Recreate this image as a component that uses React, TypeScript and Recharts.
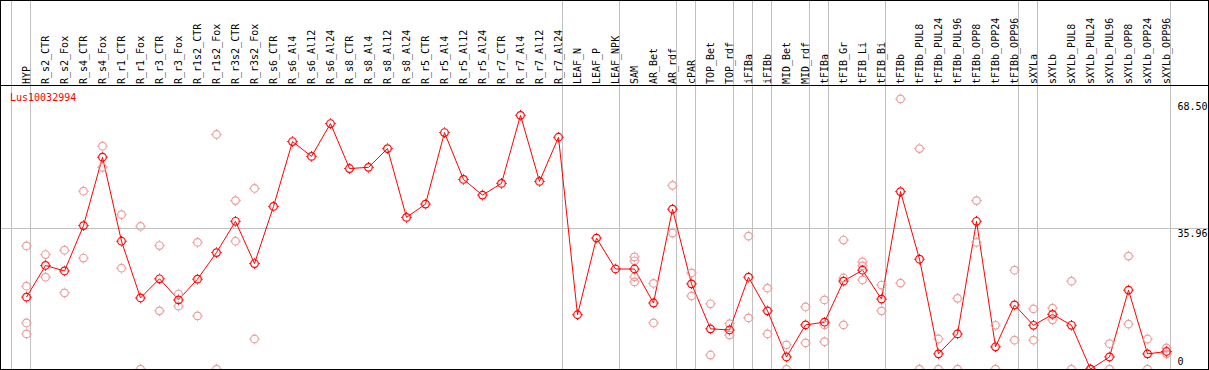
import { ComposedChart, Line, Scatter, XAxis, YAxis, ReferenceLine } from 'recharts'

const _ = null

const CATEGORIES = [
    'HYP', 'R_s2_CTR', 'R_s2_Fox', 'R_s4_CTR', 'R_s4_Fox', 'R_r1_CTR', 'R_r1_Fox', 'R_r3_CTR', 'R_r3_Fox', 'R_r1s2_CTR',
    'R_r1s2_Fox', 'R_r3s2_CTR', 'R_r3s2_Fox', 'R_s6_CTR', 'R_s6_Al4', 'R_s6_Al12', 'R_s6_Al24', 'R_s8_CTR', 'R_s8_Al4', 'R_s8_Al12',
    'R_s8_Al24', 'R_r5_CTR', 'R_r5_Al4', 'R_r5_Al12', 'R_r5_Al24', 'R_r7_CTR', 'R_r7_Al4', 'R_r7_Al12', 'R_r7_Al24', 'LEAF_N',
    'LEAF_P', 'LEAF_NPK', 'SAM', 'AR_Bet', 'AR_rdf', 'cPAR', 'TOP_Bet', 'TOP_rdf', 'iFIBa', 'iFIBb',
    'MID_Bet', 'MID_rdf', 'tFIBa', 'tFIB_Gr', 'tFIB_Li', 'tFIB_Bi', 'tFIBb', 'tFIBb_PUL8', 'tFIBb_PUL24', 'tFIBb_PUL96',
    'tFIBb_OPP8', 'tFIBb_OPP24', 'tFIBb_OPP96', 'sXYLa', 'sXYLb', 'sXYLb_PUL8', 'sXYLb_PUL24', 'sXYLb_PUL96', 'sXYLb_OPP8', 'sXYLb_OPP24',
    'sXYLb_OPP96',
]

// mean expression per sample (the red line)
const MEANS = [
    18.4, 26.5, 25.1, 36.7, 54.2, 32.7, 18.2, 23.1, 17.7, 23.0,
    29.8, 37.8, 27.0, 41.6, 58.2, 54.4, 62.8, 51.3, 51.6, 56.4,
    38.8, 42.2, 60.5, 48.5, 44.5, 47.5, 64.9, 48.0, 59.3, 13.9,
    33.5, 25.6, 25.6, 16.9, 40.9, 21.8, 10.3, 10.0, 23.5, 14.9,
    3.1, 11.3, 12.0, 22.5, 25.3, 17.9, 45.4, 28.1, 3.9, 9.0,
    37.8, 5.7, 16.4, 11.2, 14.0, 11.2, 0, 3.1, 20.2, 3.9,
    4.5,
]

// biological replicates (pink rings)
const REP_1 = [
    31.5, 29.3, 30.4, 45.5, 57.0, 39.5, 36.5, 31.6, 19.2, 32.4,
    60.0, 43.1, 46.2, _, _, _, _, _, _, _,
    _, _, _, _, _, _, _, _, _, _,
    _, _, 28.7, 21.9, 47.0, 24.6, 16.7, 11.6, 34.0, 20.7,
    6.2, 15.9, 17.7, 33.0, 27.4, 21.5, 69.1, 56.4, 7.7, 18.1,
    43.1, 11.2, 25.3, 15.4, 15.6, 22.5, 0, 6.5, 28.9, 7.7,
    5.4,
]
const REP_2 = [
    21.2, 23.5, 19.5, 28.4, 51.6, 25.8, 0, 14.9, 16.1, 13.6,
    0, 32.7, 7.7, _, _, _, _, _, _, _,
    _, _, _, _, _, _, _, _, _, _,
    _, _, 27.7, 11.8, 34.8, 18.7, 3.6, 8.7, 13.1, 9.0,
    0, 6.7, 11.3, 23.3, 26.4, 14.9, 22.0, 0, 0, 0,
    32.4, 0, 7.4, 7.4, 12.6, 0, 0, 0, 11.5, 0,
    3.9,
]
const REP_3 = [
    11.8, _, _, _, _, _, _, _, _, _,
    _, _, _, _, _, _, _, _, _, _,
    _, _, _, _, _, _, _, _, _, _,
    _, _, 23.6, _, _, _, _, _, _, _,
    _, _, 7.0, 11.3, 22.8, _, _, _, _, _,
    _, _, _, _, _, _, _, _, _, _,
    _,
]
const REP_4 = [
    9.0, _, _, _, _, _, _, _, _, _,
    _, _, _, _, _, _, _, _, _, _,
    _, _, _, _, _, _, _, _, _, _,
    _, _, 22.3, _, _, _, _, _, _, _,
    _, _, _, _, _, _, _, _, _, _,
    _, _, _, _, _, _, _, _, _, _,
    _,
]

// first column index of each sample group (gray separators)
const GROUP_STARTS = [0, 1, 29, 32, 35, 36, 38, 39, 40, 42, 43, 46, 53, 54, 61]
const Y_TICKS = [0, 35.96, 68.5]
const TITLE = 'Lus10032994'

const W = 1209
const H = 370
const COL = 19          // px per sample column
const FIRST_X = 26.5    // px of first sample point
const ZERO_Y = 369.1    // px of value 0
const PX_PER_UNIT = 3.91
const HEADER_Y = 85.5

const RED = '#ff0000'
const PINK = '#eb9c9c'
const GRID = '#c0c0c0'
const FONT = '"DejaVu Sans Mono", monospace'

const rows = CATEGORIES.map((name, i) => ({ idx: i, name, mean: MEANS[i] }))
const reps = [REP_1, REP_2, REP_3, REP_4].flatMap((arr) =>
    arr.map((v, i) => ({ idx: i, val: v })).filter((p) => p.val !== null)
)

const xDomain = [-FIRST_X / COL, (W - FIRST_X) / COL]
const yDomain = [-(H - ZERO_Y) / PX_PER_UNIT, ZERO_Y / PX_PER_UNIT]
const colOffset = (FIRST_X - 11.5) / COL

function Ring({ cx, cy, color }: { cx?: number; cy?: number; color: string }) {
    if (cx == null || cy == null || isNaN(cx) || isNaN(cy)) return <g />
    return (
        <g stroke={color} fill="none">
            <circle cx={cx} cy={cy} r={3.8} strokeWidth={1.2} />
            <path
                d={`M${cx},${cy - 5.3}v1M${cx},${cy + 4.3}v1M${cx - 5.3},${cy}h1M${cx + 4.3},${cy}h1`}
                strokeWidth={1}
            />
        </g>
    )
}

function CategoryTick(props: any) {
    const { x, payload } = props
    const bx = x + 3.5
    return (
        <text
            x={bx}
            y={84}
            transform={`rotate(-90, ${bx}, 84)`}
            fontFamily={FONT}
            fontSize={10}
            fill="#000"
            textAnchor="start"
        >
            {CATEGORIES[payload.value]}
        </text>
    )
}

function ValueTick(props: any) {
    const { y, payload } = props
    const v = payload.value
    return (
        <text x={W - 31.5} y={v === 0 ? y - 4 : y + 9} fontFamily={FONT} fontSize={10} fill="#000">
            {v === 0 ? '0' : v.toFixed(2)}
        </text>
    )
}

export default function App() {
    return (
        <div style={{ position: 'absolute', left: 0, top: 0, width: W, height: H, background: '#fff' }}>
            {/* axes get 1px each; negative margins keep the plot at the full 1209x370 */}
            <ComposedChart width={W} height={H} data={rows} margin={{ top: -1, right: -1, bottom: 0, left: 0 }}>
                <XAxis
                    dataKey="idx"
                    type="number"
                    orientation="top"
                    height={1}
                    domain={xDomain}
                    allowDataOverflow
                    ticks={rows.map((r) => r.idx)}
                    interval={0}
                    tick={CategoryTick}
                    tickLine={false}
                    axisLine={false}
                />
                <YAxis
                    type="number"
                    orientation="right"
                    width={1}
                    domain={yDomain}
                    allowDataOverflow
                    ticks={Y_TICKS}
                    interval={0}
                    tick={ValueTick}
                    tickLine={false}
                    axisLine={false}
                />
                {GROUP_STARTS.map((k) => (
                    <ReferenceLine key={k} x={k - colOffset} stroke={GRID} strokeWidth={1} />
                ))}
                <ReferenceLine y={35.96} stroke={GRID} strokeWidth={1} />
                <ReferenceLine y={(ZERO_Y - HEADER_Y) / PX_PER_UNIT} stroke="#000" strokeWidth={1} />
                <Scatter
                    data={reps}
                    dataKey="val"
                    isAnimationActive={false}
                    shape={(p: any) => <Ring cx={p.cx} cy={p.cy} color={PINK} />}
                />
                <Line
                    dataKey="mean"
                    stroke={RED}
                    strokeWidth={1}
                    isAnimationActive={false}
                    dot={(p: any) => <Ring key={p.index} cx={p.cx} cy={p.cy} color={RED} />}
                    activeDot={false}
                />
            </ComposedChart>
            <div
                style={{
                    position: 'absolute', left: 10, top: 92.5,
                    fontFamily: FONT, fontSize: 10, lineHeight: '10px', color: RED,
                    whiteSpace: 'nowrap',
                }}
            >
                {TITLE}
            </div>
            <div
                style={{
                    position: 'absolute', left: 0, top: 0, width: W, height: H,
                    border: '1px solid #000', boxSizing: 'border-box', pointerEvents: 'none',
                }}
            />
        </div>
    )
}
